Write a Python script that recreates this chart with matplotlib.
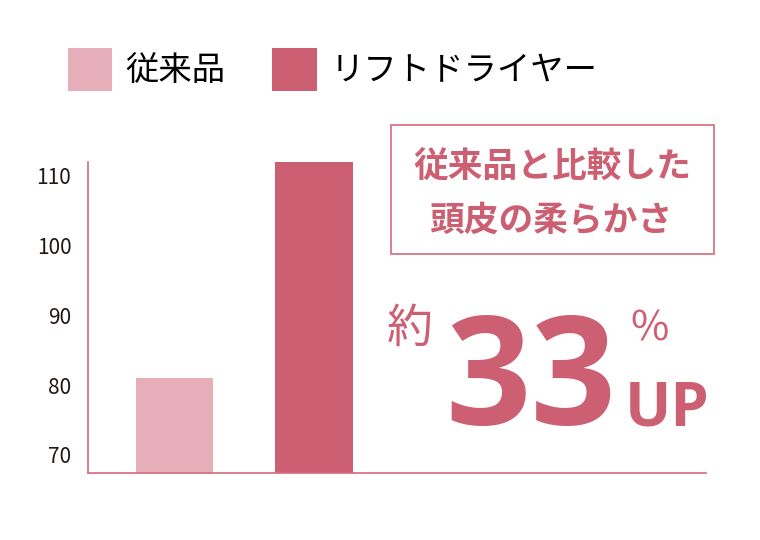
import matplotlib.pyplot as plt
from matplotlib.patches import Patch, Rectangle

plt.rcParams['font.family'] = ['Noto Sans CJK JP', 'DejaVu Sans']

# Data
categories = ['従来品', 'リフトドライヤー']
values = [81, 112]
colors = ['#E6AEB8', '#CC5F72']
yticks = [70, 80, 90, 100, 110]

pink = '#CC5F72'
line_pink = '#D8697E'

fig = plt.figure(figsize=(7.6, 5.4), dpi=100)
ax = fig.add_axes([88 / 760, (540 - 473) / 540, (706 - 88) / 760, (473 - 162) / 540])

x = range(len(categories))
ax.bar(x, values, width=0.556, color=colors, bottom=0)
ax.set_ylim(67.4, 112)
ax.set_xlim(-0.62, 3.81)
ax.set_yticks(yticks)
ax.set_xticks([])
ax.tick_params(axis='y', length=0, pad=12, labelsize=15, labelcolor='#231815')
for s in ['top', 'right']:
    ax.spines[s].set_visible(False)
for s in ['left', 'bottom']:
    ax.spines[s].set_color(line_pink)
    ax.spines[s].set_linewidth(1.2)

# Legend
handles = [Patch(facecolor=c, edgecolor='none') for c in colors]
fig.legend(handles, categories, loc='upper left', bbox_to_anchor=(68 / 760, 1 - 48 / 540),
           ncol=2, frameon=False, fontsize=24, handlelength=1.33, handleheight=1.6,
           handletextpad=0.4, columnspacing=1.4, borderaxespad=0, borderpad=0)

# Callout box
fig.add_artist(Rectangle((391 / 760, 1 - 254 / 540), (714 - 391) / 760, (254 - 125) / 540,
                         transform=fig.transFigure, facecolor='white', edgecolor=line_pink, lw=1.2))
fig.text(552 / 760, 1 - 167 / 540, '従来品と比較した', ha='center', va='center',
         fontsize=25, color=pink, fontweight='semibold')
fig.text(552 / 760, 1 - 220 / 540, '頭皮の柔らかさ', ha='center', va='center',
         fontsize=25, color=pink, fontweight='semibold')

# Big number
fig.text(410 / 760, 1 - 329 / 540, '約', ha='center', va='center', fontsize=33, color=pink)
fig.text(531 / 760, 1 - 425 / 540, '33', ha='center', va='baseline', fontsize=108,
         color=pink, fontweight='bold', family=['Open Sans', 'DejaVu Sans'])
fig.text(650 / 760, 1 - 329 / 540, '%', ha='center', va='center', fontsize=30, color=pink,
         family=['Noto Sans CJK JP', 'DejaVu Sans'])
fig.text(667 / 760, 1 - 425 / 540, 'UP', ha='center', va='baseline', fontsize=44,
         color=pink, fontweight='bold', family=['Open Sans', 'DejaVu Sans'])

fig.savefig('out.png', dpi=100, facecolor='white')
